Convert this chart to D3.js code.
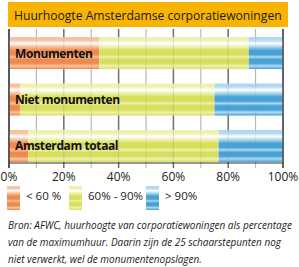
<!DOCTYPE html>
<html>
<head>
<meta charset="utf-8">
<script src="https://cdnjs.cloudflare.com/ajax/libs/d3/7.8.5/d3.min.js"></script>
<style>
  body { margin: 0; background: #fff; }
  svg { display: block; }
</style>
</head>
<body>
<div id="chart"></div>
<script>
// data
var title = "Huurhoogte Amsterdamse corporatiewoningen";
var categories = ["Monumenten", "Niet monumenten", "Amsterdam totaal"];
var below60 = [33, 4, 7];
var from60to90 = [54.5, 71, 69.5];
var above90 = [12.5, 25, 23.5];
var seriesNames = ["< 60 %", "60% - 90%", "> 90%"];
var tickValues = [0, 20, 40, 60, 80, 100];
var footnote = [
  "Bron: AFWC, huurhoogte van corporatiewoningen als percentage",
  "van de maximumhuur. Daarin zijn de 25 schaarstepunten nog",
  "niet verwerkt, wel de monumentenopslagen."
];

var width = 299, height = 267;
var margin = {left: 9, right: 16, top: 29, bottom: 104};
var plotW = width - margin.left - margin.right,
    plotH = height - margin.top - margin.bottom;

var svg = d3.select("#chart").append("svg")
    .attr("width", width)
    .attr("height", height);

// shrink font until the widest text of the selection fits
function fitText(sel, maxW) {
  var fs = parseFloat(sel.attr("font-size"));
  var w = d3.max(sel.nodes(), function(n) { return n.getComputedTextLength(); });
  if (w > maxW) sel.attr("font-size", (fs * maxW / w).toFixed(2));
}

// striped glossy fills
var colors = [
  {dark: "#ef8a4f", light: "#f7c39f"},
  {dark: "#d9de5c", light: "#eef1b0"},
  {dark: "#47a3d6", light: "#b2d8ef"}
];
var defs = svg.append("defs");
colors.forEach(function(c, i) {
  var g = defs.append("linearGradient")
      .attr("id", "grad" + i)
      .attr("x1", 0).attr("y1", 0).attr("x2", 0).attr("y2", 1);
  var stops = [
    [0, c.light], [0.1, c.light], [0.2, "#ffffff"], [0.3, c.light],
    [0.42, c.dark], [0.55, c.dark], [0.62, c.light], [0.7, c.dark],
    [0.82, c.dark], [0.9, c.light], [1, c.dark]
  ];
  stops.forEach(function(s) {
    g.append("stop").attr("offset", s[0]).attr("stop-color", s[1]);
  });
});

// title banner
svg.append("rect")
    .attr("x", 8).attr("y", 2)
    .attr("width", 280).attr("height", 25)
    .attr("fill", "#f8b400");
svg.append("text")
    .attr("x", 14).attr("y", 20)
    .attr("font-family", "Open Sans, sans-serif")
    .attr("font-size", 17)
    .attr("fill", "#1a1a1a")
    .text(title)
    .call(fitText, 268);

var g = svg.append("g")
    .attr("transform", "translate(" + margin.left + "," + margin.top + ")");

var x = d3.scaleLinear().domain([0, 100]).range([0, plotW]);
var y = d3.scaleBand().domain(categories).range([8, 133]).paddingInner(0.31).paddingOuter(0);

// gridlines
var gridVals = d3.range(0, 101, 10);
g.selectAll(".grid")
  .data(gridVals)
  .enter().append("line")
    .attr("x1", function(d) { return x(d); })
    .attr("x2", function(d) { return x(d); })
    .attr("y1", 0)
    .attr("y2", plotH + 5)
    .attr("stroke", function(d) { return d % 20 === 0 ? "#6e6e6e" : "#b5b5b5"; })
    .attr("stroke-width", function(d) { return d % 20 === 0 ? 1.5 : 1; });

// stacked bars
var rows = categories.map(function(c, i) {
  return {cat: c, vals: [below60[i], from60to90[i], above90[i]]};
});
var stack = d3.stack().keys([0, 1, 2]).value(function(d, k) { return d.vals[k]; });
var layers = stack(rows);

g.selectAll(".layer")
  .data(layers)
  .enter().append("g")
    .attr("fill", function(d, i) { return "url(#grad" + i + ")"; })
  .selectAll("rect")
  .data(function(d) { return d; })
  .enter().append("rect")
    .attr("x", function(d) { return x(d[0]); })
    .attr("width", function(d) { return x(d[1]) - x(d[0]); })
    .attr("y", function(d) { return y(d.data.cat); })
    .attr("height", y.bandwidth());

// gridlines faintly over bars
g.selectAll(".gridover")
  .data(gridVals)
  .enter().append("line")
    .attr("x1", function(d) { return x(d); })
    .attr("x2", function(d) { return x(d); })
    .attr("y1", 0)
    .attr("y2", plotH)
    .attr("stroke", "#888")
    .attr("stroke-opacity", function(d) { return d % 20 === 0 ? 0.25 : 0.15; });

// axis lines
g.append("line")
    .attr("x1", 0).attr("x2", 0).attr("y1", 0).attr("y2", plotH + 5)
    .attr("stroke", "#444").attr("stroke-width", 1.5);
g.append("line")
    .attr("x1", plotW).attr("x2", plotW).attr("y1", 0).attr("y2", plotH + 5)
    .attr("stroke", "#555").attr("stroke-width", 1.5);
g.append("line")
    .attr("x1", 0).attr("x2", plotW).attr("y1", plotH).attr("y2", plotH)
    .attr("stroke", "#333").attr("stroke-width", 1.2);

// category labels
g.selectAll(".cat")
  .data(categories)
  .enter().append("text")
    .attr("x", 6)
    .attr("y", function(d) { return y(d) + y.bandwidth() / 2 + 4.5; })
    .attr("font-family", "Open Sans, sans-serif")
    .attr("font-weight", "bold")
    .attr("font-size", 12)
    .attr("fill", "#111")
    .attr("letter-spacing", -0.4)
    .text(function(d) { return d; });

// tick labels
g.selectAll(".tick")
  .data(tickValues)
  .enter().append("text")
    .attr("x", function(d) { return x(d); })
    .attr("y", plotH + 18)
    .attr("text-anchor", "middle")
    .attr("font-family", "Open Sans, sans-serif")
    .attr("font-size", 12)
    .attr("fill", "#222")
    .text(function(d) { return d + "%"; });

// legend
var legX = [7, 69, 146];
var leg = svg.selectAll(".leg")
  .data(seriesNames)
  .enter().append("g")
    .attr("transform", function(d, i) { return "translate(" + legX[i] + ",186)"; });
leg.append("rect")
    .attr("width", 13).attr("height", 24)
    .attr("fill", function(d, i) { return "url(#grad" + i + ")"; });
leg.append("text")
    .attr("x", 19).attr("y", 14)
    .attr("font-family", "Open Sans, sans-serif")
    .attr("font-size", 11.5)
    .attr("fill", "#222")
    .text(function(d) { return d; });

// footnote
svg.selectAll(".foot")
  .data(footnote)
  .enter().append("text")
    .attr("x", 8)
    .attr("y", function(d, i) { return 229 + i * 17; })
    .attr("font-family", "Open Sans, sans-serif")
    .attr("font-style", "italic")
    .attr("font-size", 13)
    .attr("fill", "#1a1a1a")
    .text(function(d) { return d; })
    .call(fitText, 284);
</script>
</body>
</html>
